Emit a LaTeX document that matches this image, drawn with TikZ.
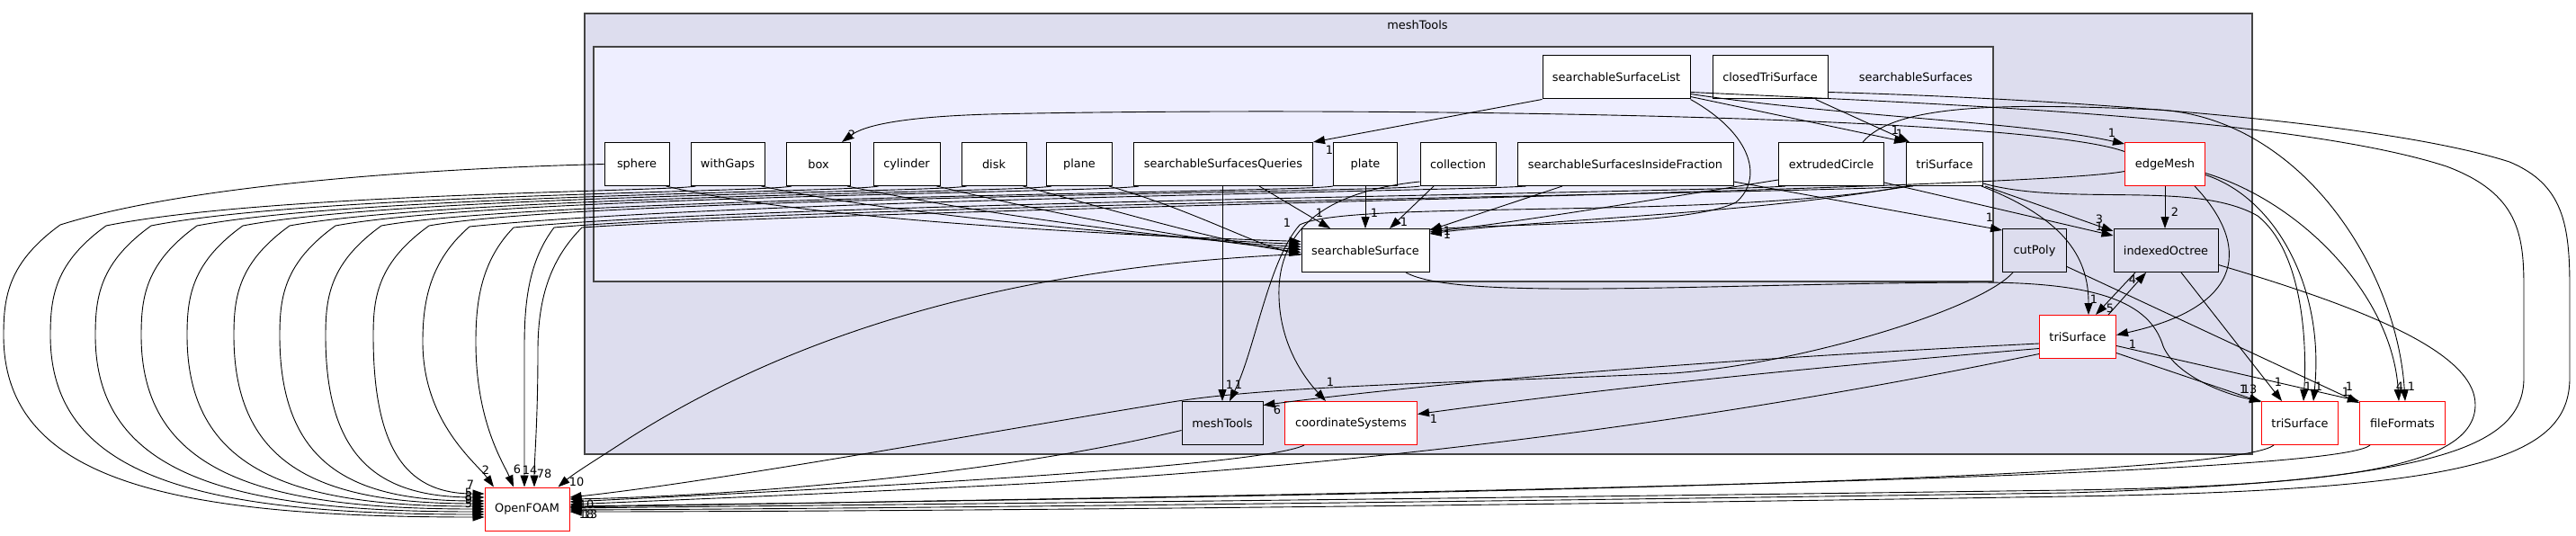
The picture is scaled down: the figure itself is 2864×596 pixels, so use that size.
\documentclass[tikz,border=0pt]{standalone}
\usepackage{fontspec}
\setmainfont{DejaVu Sans}
\usepackage{tikz}
\usetikzlibrary{arrows.meta}
\definecolor{outerfill}{HTML}{DDDDEE}
\definecolor{innerfill}{HTML}{EEEEFF}
\definecolor{clusterline}{HTML}{444444}
\definecolor{subdirred}{HTML}{FF0000}

\begin{document}
\begin{tikzpicture}[
    x=1pt, y=-1pt,
    font=\fontsize{12.9}{15}\selectfont,
    dirnode/.style={draw=black, fill=white, line width=1pt, minimum height=48pt, inner sep=0pt},
    subdirnode/.style={dirnode, draw=subdirred},
    leafnode/.style={dirnode, fill=outerfill},
    dep/.style={draw=black, line width=0.9pt, -{Triangle[length=13pt, width=9pt]}},
    num/.style={inner sep=0pt},
]
\useasboundingbox (0,0) rectangle (2864,596);

% ============================================================
% CLUSTERS
% ============================================================
\filldraw[fill=outerfill, draw=clusterline, line width=1.2pt] (650,15) rectangle (2504,505);
\node[num] (meshToolsTitle) at (1576,28) {meshTools};
\filldraw[fill=innerfill, draw=clusterline, line width=1.2pt] (660,52) rectangle (2216,313);
\node[num] (searchTitle) at (2130,86) {searchableSurfaces};

% ============================================================
% DIRECTORIES
% ============================================================
\node[dirnode, minimum width=164pt] (ssList) at (1797,86) {searchableSurfaceList};
\node[dirnode, minimum width=128pt] (closedTri) at (1968,86) {closedTriSurface};

\node[dirnode, minimum width=72pt] (sphere) at (708,182.5) {sphere};
\node[dirnode, minimum width=82pt] (withGaps) at (809,182.5) {withGaps};
\node[dirnode, minimum width=71pt] (boxDir) at (910,182.5) {box};
\node[dirnode, minimum width=74pt] (cylinder) at (1008,182.5) {cylinder};
\node[dirnode, minimum width=72pt] (disk) at (1105,182.5) {disk};
\node[dirnode, minimum width=73pt] (plane) at (1200,182.5) {plane};
\node[dirnode, minimum width=199pt] (ssQueries) at (1360,182.5) {searchableSurfacesQueries};
\node[dirnode, minimum width=71pt] (plate) at (1518,182.5) {plate};
\node[dirnode, minimum width=84pt] (collection) at (1621,182.5) {collection};
\node[dirnode, minimum width=240pt] (ssInside) at (1807,182.5) {searchableSurfacesInsideFraction};
\node[dirnode, minimum width=117pt] (extCircle) at (2036,182.5) {extrudedCircle};
\node[dirnode, minimum width=85pt] (triIn) at (2162,182.5) {triSurface};
\node[subdirnode, minimum width=89pt] (edgeMesh) at (2407,182.5) {edgeMesh};

\node[dirnode, minimum width=142pt] (ssurf) at (1518,278.5) {searchableSurface};
\node[leafnode, minimum width=71pt] (cutPoly) at (2262,278.5) {cutPoly};
\node[leafnode, minimum width=116pt] (octree) at (2408,278.5) {indexedOctree};
\node[subdirnode, minimum width=85pt] (triRed) at (2310,374.5) {triSurface};

\node[leafnode, minimum width=90pt] (meshToolsDir) at (1359,470.5) {meshTools};
\node[subdirnode, minimum width=147pt] (coordSys) at (1502,470.5) {coordinateSystems};
\node[subdirnode, minimum width=85pt] (triOut) at (2557,470.5) {triSurface};
\node[subdirnode, minimum width=95pt] (fileFormats) at (2671,470.5) {fileFormats};

\node[subdirnode, minimum width=94pt] (openFOAM) at (586,566) {OpenFOAM};

% ============================================================
% FAN TO OpenFOAM (left)
% ============================================================
\draw[dep] (sphere.west) .. controls (450,188) and (200,208) .. (67,250) .. controls (9,292) and (4,330) .. (4,373) .. controls (4,535) and (191,575) .. ([yshift=-9pt]openFOAM.west);
\draw[dep] ([xshift=6pt]withGaps.south west) .. controls (744,213) and (296,215) .. (118,251) .. controls (61,292) and (56,330) .. (56,373) .. controls (56,532) and (225,572) .. ([yshift=-6pt]openFOAM.west);
\draw[dep] ([xshift=6pt]boxDir.south west) .. controls (850,214) and (346,216) .. (168,251) .. controls (111,292) and (106,330) .. (106,373) .. controls (106,529) and (258,569) .. ([yshift=-3pt]openFOAM.west);
\draw[dep] ([xshift=6pt]cylinder.south west) .. controls (947,214) and (397,217) .. (219,251) .. controls (162,292) and (157,330) .. (157,373) .. controls (157,526) and (291,566) .. (openFOAM.west);
\draw[dep] ([xshift=6pt]disk.south west) .. controls (1045,214) and (448,217) .. (270,251) .. controls (213,292) and (208,330) .. (208,373) .. controls (208,523) and (324,563) .. ([yshift=3pt]openFOAM.west);
\draw[dep] ([xshift=6pt]plane.south west) .. controls (1140,214) and (500,218) .. (322,251) .. controls (265,292) and (260,330) .. (260,373) .. controls (260,520) and (358,560) .. ([yshift=6pt]openFOAM.west);
\draw[dep] ([xshift=6pt]ssQueries.south west) .. controls (1236,214) and (551,218) .. (373,251) .. controls (316,292) and (311,330) .. (311,373) .. controls (311,517) and (391,557) .. ([yshift=9pt]openFOAM.west);
\draw[dep] (plate.south west) .. controls (1452,214) and (602,219) .. (424,251) .. controls (367,292) and (362,330) .. (362,373) .. controls (362,513) and (424,553) .. ([yshift=13pt]openFOAM.west);
\draw[dep] (collection.south west) .. controls (1549,214) and (655,219) .. (477,251) .. controls (420,292) and (415,330) .. (415,373) .. controls (415,509) and (458,549) .. ([yshift=17pt]openFOAM.west);
\draw[dep] ([xshift=10pt]ssInside.south west) .. controls (1640,212) and (820,222) .. (522,252) .. controls (478,290) and (470,335) .. (470,380) .. controls (470,470) and (530,515) .. ([xshift=-37pt]openFOAM.north);
\draw[dep] ([xshift=8pt]extCircle.south west) .. controls (1900,214) and (860,225) .. (571,253) .. controls (535,290) and (529,335) .. (529,380) .. controls (529,470) and (560,515) .. ([xshift=-15pt]openFOAM.north);
\draw[dep] ([xshift=8pt]triIn.south west) .. controls (2050,214) and (900,228) .. (616,253) .. controls (588,290) and (583,335) .. (583,385) .. controls (583,470) and (583,510) .. ([xshift=-3pt]openFOAM.north);
\draw[dep] ([yshift=-8pt]edgeMesh.west) .. controls (2250,212) and (950,232) .. (647,253) .. controls (610,290) and (598,335) .. (598,390) .. controls (598,470) and (594,510) .. ([xshift=8pt]openFOAM.north);

\node[num] (nOf1) at (540,523) {2};
\node[num] (nOf2) at (575,522) {6};
\node[num] (nOf3) at (589,523) {14};
\node[num] (nOf4) at (605,527) {78};
\node[num] (nOf5) at (523,539) {7};
\node[num] (nOf6) at (521,548) {5};
\node[num] (nOf7) at (521,552) {8};
\node[num] (nOf8) at (521,556) {9};
\node[num] (nOf9) at (521,560) {5};

% ============================================================
% INTO searchableSurface
% ============================================================
\draw[dep] ([xshift=-4pt]sphere.south east) .. controls (900,245) and (1250,262) .. ([yshift=10pt]ssurf.west);
\draw[dep] ([xshift=-4pt]withGaps.south east) .. controls (1000,240) and (1300,266) .. ([yshift=7pt]ssurf.west);
\draw[dep] ([xshift=-4pt]boxDir.south east) .. controls (1100,240) and (1320,268) .. ([yshift=4pt]ssurf.west);
\draw[dep] ([xshift=-4pt]cylinder.south east) .. controls (1180,240) and (1340,270) .. ([yshift=1pt]ssurf.west);
\draw[dep] ([xshift=-4pt]disk.south east) .. controls (1260,240) and (1370,272) .. ([yshift=-2pt]ssurf.west);
\draw[dep] ([xshift=-4pt]plane.south east) .. controls (1330,235) and (1390,270) .. ([yshift=-5pt]ssurf.west);
\draw[dep] ([xshift=-60pt]ssQueries.south east) -- ([xshift=-39pt]ssurf.north);
\draw[dep] (plate.south) -- (ssurf.north);
\draw[dep] ([xshift=-27pt]collection.south) -- ([xshift=27pt]ssurf.north);
\draw[dep] (ssList.south east) .. controls (1950,150) and (1960,200) .. (1930,225) .. controls (1880,250) and (1700,248) .. ([yshift=-1pt]ssurf.north east);
\draw[dep] ([xshift=-70pt]ssInside.south) -- ([yshift=-2pt]ssurf.north east);
\draw[dep] ([yshift=7pt]extCircle.south west) .. controls (1800,228) and (1700,245) .. ([yshift=-4pt]ssurf.north east);
\draw[dep] (triIn.south west) .. controls (1950,238) and (1700,245) .. ([yshift=-6pt]ssurf.north east);

\node[num] (nSs1) at (1431,248) {1};
\node[num] (nSs3) at (1467,237) {1};
\node[num] (nSs4) at (1528,237) {1};
\node[num] (nSs5) at (1561,247) {1};
\node[num] (nSs6) at (1609,257) {1};
\node[num] (nSs7) at (1609,261) {1};

% ============================================================
% TOP OF searchableSurfaces
% ============================================================
\draw[dep] (ssList.south west) -- (ssQueries.north east);
\draw[dep] ([yshift=14pt]edgeMesh.west) .. controls (2250,128) and (1500,118) .. (1100,127) .. controls (1000,130) and (960,140) .. ([xshift=-10pt]boxDir.north east);
\draw[dep] ([yshift=3pt]ssList.south east) -- (triIn.north west);
\draw[dep] ([xshift=-14pt]closedTri.south east) -- ([xshift=4pt]triIn.north west);
\draw[dep] ([yshift=6pt]ssList.south east) .. controls (2050,130) and (2250,135) .. ([yshift=-2pt]edgeMesh.north west);
\draw[dep] ([xshift=35pt]extCircle.north) .. controls (2110,112) and (2250,116) .. (2400,122) .. controls (2560,132) and (2665,300) .. ([xshift=3pt]fileFormats.north);

\node[num] (nTop1) at (1478,167) {1};
\node[num] (nTop2) at (947,150) {2};
\node[num] (nTop3) at (2107,145) {1};
\node[num] (nTop4) at (2112,149) {1};
\node[num] (nTop5) at (2348,148) {1};

% ============================================================
% edgeMesh, cutPoly, indexedOctree, triSurface
% ============================================================
\draw[dep] (edgeMesh.south) -- ([xshift=-1pt]octree.north);
\draw[dep] ([xshift=33pt]edgeMesh.south) .. controls (2500,270) and (2500,340) .. ([yshift=2pt]triRed.east);
\draw[dep] ([xshift=2pt]triIn.south east) -- ([yshift=-3pt]octree.north west);
\draw[dep] ([yshift=4pt]extCircle.south east) -- ([yshift=-8pt]octree.north west);
\draw[dep] ([yshift=5pt]ssInside.south east) -- ([yshift=-2pt]cutPoly.north west);
\draw[dep] ([xshift=-2pt]triIn.south east) .. controls (2300,245) and (2322,290) .. ([xshift=12pt]triRed.north);
\draw[dep] ([xshift=34pt]triRed.north) -- ([xshift=-22pt]octree.south);
\draw[dep] ([xshift=-34pt]octree.south) -- ([xshift=20pt]triRed.north);

\node[num] (nMid1) at (2418,236) {2};
\node[num] (nMid2) at (2371,383) {1};
\node[num] (nMid3) at (2334,244) {3};
\node[num] (nMid4) at (2334,252) {1};
\node[num] (nMid5) at (2212,242) {1};
\node[num] (nMid6) at (2328,333) {1};
\node[num] (nMid7) at (2371,311) {4};
\node[num] (nMid8) at (2346,343) {5};

% ============================================================
% triSurface and fileFormats outside meshTools
% ============================================================
\draw[dep] ([xshift=17pt]octree.south) -- ([xshift=-20pt]triOut.north);
\draw[dep] ([yshift=-18pt]cutPoly.east) -- ([yshift=-2pt]fileFormats.north west);
\draw[dep] ([yshift=-10pt]triRed.east) -- (fileFormats.north west);
\draw[dep] ([yshift=-18pt]triRed.east) -- ([yshift=-1pt]triOut.north west);
\draw[dep] ([xshift=45pt]ssurf.south) .. controls (1620,335) and (1900,315) .. (2200,314) .. controls (2330,314) and (2390,335) .. (2405,385) .. controls (2420,420) and (2480,440) .. (triOut.north west);
\draw[dep] ([yshift=-12pt]edgeMesh.east) .. controls (2530,220) and (2585,320) .. ([xshift=15pt]triOut.north);
\draw[dep] ([yshift=3pt]triIn.south east) .. controls (2300,230) and (2440,200) .. (2510,240) .. controls (2560,280) and (2565,380) .. ([xshift=4pt]triOut.north);
\draw[dep] ([yshift=-10pt]edgeMesh.east) .. controls (2560,225) and (2660,330) .. ([xshift=-4pt]fileFormats.north);

\node[num] (nOut1) at (2533,425) {1};
\node[num] (nOut2) at (2608,436) {1};
\node[num] (nOut3) at (2612,430) {1};
\node[num] (nOut4) at (2494,433) {1};
\node[num] (nOut5) at (2501,433) {13};
\node[num] (nOut6) at (2566,430) {1};
\node[num] (nOut7) at (2578,430) {1};
\node[num] (nOut8) at (2668,430) {4};
\node[num] (nOut9) at (2681,430) {1};

% ============================================================
% meshTools and coordinateSystems
% ============================================================
\draw[dep] ([xshift=-1pt]ssQueries.south) -- (meshToolsDir.north);
\draw[dep] ([xshift=4pt]triIn.south west) .. controls (1900,245) and (1500,222) .. (1445,250) .. controls (1410,290) and (1395,390) .. ([xshift=8pt]meshToolsDir.north);
\draw[dep] ([yshift=5pt]collection.south west) .. controls (1480,212) and (1425,250) .. (1422,320) .. controls (1420,380) and (1450,420) .. ([xshift=-28pt]coordSys.north);
\draw[dep] ([yshift=-7.5pt]triRed.west) .. controls (1900,400) and (1600,425) .. ([yshift=20pt]meshToolsDir.east);
\draw[dep] ([yshift=-13pt]triRed.west) .. controls (2000,410) and (1800,430) .. ([yshift=10pt]coordSys.east);

\node[num] (nMt1) at (1367,428) {1};
\node[num] (nMt2) at (1377,428) {1};
\node[num] (nMt3) at (1479,425) {1};
\node[num] (nMt4) at (1420,456) {6};
\node[num] (nMt5) at (1594,466) {1};

% ============================================================
% TO OpenFOAM (right)
% ============================================================
\draw[dep] ([yshift=-4pt]ssurf.west) .. controls (1150,295) and (900,360) .. (700,487) .. controls (665,510) and (640,525) .. ([xshift=-13pt]openFOAM.north east);
\draw[dep] ([xshift=12pt]cutPoly.south west) .. controls (2200,345) and (2000,405) .. (1860,415) .. controls (1650,425) and (1420,428) .. (1303,447) .. controls (1100,480) and (800,535) .. ([yshift=13pt]openFOAM.east);
\draw[dep] ([yshift=-8pt]meshToolsDir.west) .. controls (1100,530) and (800,552) .. ([yshift=11pt]openFOAM.east);
\draw[dep] ([xshift=22pt]coordSys.south west) .. controls (1400,520) and (900,545) .. ([yshift=8pt]openFOAM.east);
\draw[dep] ([yshift=-19pt]triRed.west) .. controls (1900,470) and (1500,520) .. (1100,540) .. controls (900,550) and (700,558) .. ([yshift=5pt]openFOAM.east);
\draw[dep] ([xshift=14pt]triOut.south west) .. controls (2470,540) and (1200,555) .. ([yshift=3pt]openFOAM.east);
\draw[dep] ([xshift=12pt]fileFormats.south west) .. controls (2590,535) and (1300,552) .. ([yshift=2pt]openFOAM.east);
\draw[dep] ([yshift=-16pt]octree.east) .. controls (2620,340) and (2752,390) .. (2752,450) .. controls (2752,520) and (2600,540) .. (2300,545) .. controls (1500,556) and (900,562) .. ([yshift=1pt]openFOAM.east);
\draw[dep] ([yshift=8pt]ssList.south east) .. controls (2150,115) and (2550,130) .. (2720,185) .. controls (2800,215) and (2806,260) .. (2806,320) -- (2806,420) .. controls (2806,500) and (2700,535) .. (2300,548) .. controls (1500,560) and (900,566) .. ([yshift=-1pt]openFOAM.east);
\draw[dep] ([yshift=8pt]closedTri.south east) .. controls (2300,110) and (2650,135) .. (2790,180) .. controls (2850,205) and (2857,250) .. (2857,320) -- (2857,420) .. controls (2857,510) and (2750,545) .. (2300,552) .. controls (1500,565) and (900,569) .. ([yshift=-3pt]openFOAM.east);

\node[num] (nOfR1) at (641,536) {10};
\node[num] (nOfR2) at (652,561) {10};
\node[num] (nOfR3) at (652,572) {18};
\node[num] (nOfR4) at (656,572) {13};

\end{tikzpicture}
\end{document}
